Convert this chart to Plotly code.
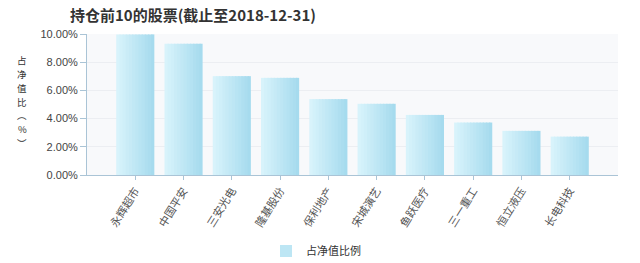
import numpy as np
import plotly.graph_objects as go

# Top 10 stock holdings, share of net asset value (%)
stocks = ["永辉超市", "中国平安", "三安光电", "隆基股份", "保利地产",
          "宋城演艺", "鱼跃医疗", "三一重工", "恒立液压", "长电科技"]
nav_pct = [9.97, 9.31, 7.01, 6.89, 5.38, 5.05, 4.26, 3.72, 3.13, 2.72]
y_ticks = [0, 2, 4, 6, 8, 10]
y_tick_text = [f"{v:.2f}%" for v in y_ticks]
series_name = "占净值比例"
y_title_chars = ["占", "净", "值", "比", "︵", "%", "︶"]

# Plot-area geometry in pixels
W, H = 640, 263
L, R, T, B = 87, 22, 34, 88
PW, PH = W - L - R, H - T - B

# Horizontal light-to-deeper cyan gradient built from overlaid bar strips
left_rgb = np.array([216, 243, 251])
right_rgb = np.array([166, 219, 238])
n_strips = 12
bar_w = 0.79
strip_w = bar_w / n_strips

fig = go.Figure()
for k in range(n_strips):
    t = k / (n_strips - 1)
    r, g, b = (left_rgb + (right_rgb - left_rgb) * t).round().astype(int)
    last = k == n_strips - 1
    fig.add_trace(go.Bar(
        x=stocks, y=nav_pct,
        width=strip_w * (1.0 if last else 1.4),
        offset=-bar_w / 2 + k * strip_w,
        marker=dict(color=f"rgb({r},{g},{b})", line=dict(width=0)),
        name=series_name,
        showlegend=(k == n_strips // 2),
    ))

fig.update_layout(
    width=W, height=H,
    margin=dict(l=L, r=R, t=T, b=B, autoexpand=False),
    paper_bgcolor="white",
    plot_bgcolor="#f8f9fb",
    barmode="overlay",
    title=dict(
        text="<b>持仓前10的股票(截止至2018-12-31)</b>",
        x=70 / W, xanchor="left", xref="container",
        y=1 - 16 / H, yanchor="middle", yref="container",
        font=dict(family="Noto Sans CJK SC", size=15, color="#333333"),
        automargin=False,
    ),
    font=dict(family="Noto Sans CJK SC", color="#333333"),
    showlegend=True,
    legend=dict(
        orientation="h", xref="paper", yref="paper",
        x=(266 - L) / PW, xanchor="left",
        y=(T + PH - 251) / PH, yanchor="middle",
        font=dict(family="Noto Sans CJK SC", size=11, color="#333333"),
        itemwidth=30, bgcolor="rgba(0,0,0,0)",
    ),
    xaxis=dict(
        type="category",
        range=[-1, 10],
        automargin=False,
        showgrid=False,
        showline=True, linecolor="#aac4d6", linewidth=1,
        ticks="outside", ticklen=4, tickcolor="#aac4d6",
        tickangle=-58,
        tickfont=dict(family="Noto Sans CJK SC", size=11, color="#555555"),
        fixedrange=True,
    ),
    yaxis=dict(
        range=[0, 10],
        automargin=False,
        tickvals=y_ticks, ticktext=y_tick_text,
        showgrid=True, gridcolor="#eceef2", gridwidth=1,
        zeroline=False,
        showline=True, linecolor="#aac4d6", linewidth=1,
        ticks="outside", ticklen=6, tickcolor="#aac4d6",
        tickfont=dict(family="Liberation Sans", size=11, color="#444444"),
        fixedrange=True,
    ),
)

# Vertical, character-stacked y-axis caption, one glyph per row
row_step = 13.8
center_px = 101.5
n_chars = len(y_title_chars)
for i, ch in enumerate(y_title_chars):
    y_px = center_px + (i - (n_chars - 1) / 2) * row_step
    fig.add_annotation(
        text=ch,
        xref="paper", yref="paper",
        x=(22 - L) / PW, y=(T + PH - y_px) / PH,
        xanchor="center", yanchor="middle",
        showarrow=False,
        font=dict(family="Noto Sans CJK SC", size=9.5, color="#333333"),
    )

fig.write_html("out.html")
